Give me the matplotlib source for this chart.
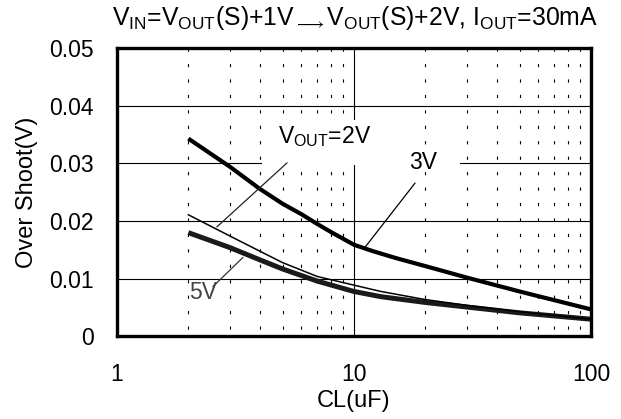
import matplotlib
matplotlib.use("Agg")
import matplotlib.pyplot as plt
from matplotlib.patches import Rectangle

plt.rcParams['font.family'] = ['Liberation Sans', 'DejaVu Sans']
plt.rcParams['mathtext.fontset'] = 'custom'
plt.rcParams['mathtext.rm'] = 'Liberation Sans'
plt.rcParams['mathtext.it'] = 'Liberation Sans:italic'
plt.rcParams['mathtext.bf'] = 'Liberation Sans:bold'

# 过冲电压 vs 负载电容
cl_3v = [2, 3, 4, 5, 6, 7, 8, 10, 12, 15, 20, 30, 50, 100]
os_3v = [0.0343, 0.0294, 0.0256, 0.0230, 0.0212, 0.0195, 0.0181, 0.0159,
         0.0148, 0.0136, 0.0122, 0.0102, 0.0078, 0.0047]

cl_2v = [2, 3, 4, 5, 7, 10, 13, 20, 30, 50, 100]
os_2v = [0.0211, 0.0174, 0.0148, 0.0128, 0.0104, 0.0089, 0.0078, 0.0064,
         0.0054, 0.0043, 0.0030]

cl_5v = [2, 3, 4, 5, 7, 10, 13, 20, 30, 50, 100]
os_5v = [0.0180, 0.0154, 0.0133, 0.0117, 0.0096, 0.0078, 0.0069, 0.0059,
         0.0051, 0.0041, 0.0030]

x_ticks = [1, 10, 100]
x_ticklabels = ['1', '10', '100']
y_ticks = [0, 0.01, 0.02, 0.03, 0.04, 0.05]
y_ticklabels = ['0', '0.01', '0.02', '0.03', '0.04', '0.05']
minor_x = [2, 3, 4, 5, 6, 7, 8, 9, 20, 30, 40, 50, 60, 70, 80, 90]

fig = plt.figure(figsize=(6.21, 4.19), dpi=100)
ax = fig.add_axes([0.1884, 0.1969, 0.7633, 0.6885])
ax.set_xscale('log')
ax.set_xlim(1, 100)
ax.set_ylim(0, 0.05)

# 网格: 实线主网格 + 短划线次网格
for y in y_ticks[1:-1]:
    ax.plot([1, 100], [y, y], color='black', lw=0.8, zorder=1)
ax.plot([10, 10], [0, 0.05], color='black', lw=0.8, zorder=1)
for x in minor_x:
    ax.plot([x, x], [0.05, 0], color='black', lw=0.8,
            linestyle=(0, (2.9, 11)), zorder=1)

# 标注文字背后的白底
ax.add_patch(Rectangle((4.1, 0.0297), 13.8 - 4.1, 0.0375 - 0.0297,
                       facecolor='white', edgecolor='none', zorder=2))
ax.add_patch(Rectangle((13.8, 0.0285), 28 - 13.8, 0.0320 - 0.0285,
                       facecolor='white', edgecolor='none', zorder=2))

ax.plot(cl_3v, os_3v, color='black', lw=3.0, zorder=4, solid_capstyle='butt')
ax.plot(cl_5v, os_5v, color='#1a1a1a', lw=3.6, zorder=4, solid_capstyle='butt')
ax.plot(cl_2v, os_2v, color='black', lw=1.1, zorder=5)

# 曲线标注
line_kw = dict(arrowstyle='-', lw=0.9, shrinkA=0, shrinkB=0)
ax.annotate('', xy=(2.64, 0.0190), xytext=(5.22, 0.0301), zorder=6,
            arrowprops=dict(color='#222222', **line_kw))
ax.text(7.55, 0.0346, r'V$_{\rm OUT}$=2V', fontsize=16.5, ha='center',
        va='center', zorder=6)
ax.annotate('', xy=(11.1, 0.0154), xytext=(18.1, 0.0266), zorder=6,
            arrowprops=dict(color='black', **line_kw))
ax.text(19.5, 0.0301, '3V', fontsize=16.5, ha='center', va='center',
        zorder=6)
ax.annotate('', xy=(3.40, 0.0137), xytext=(2.54, 0.00865), zorder=6,
            arrowprops=dict(color='#333333', **line_kw))
ax.text(2.31, 0.0076, '5V', fontsize=16.5, ha='center', va='center',
        color='#444444', zorder=6)

ax.set_xticks(x_ticks)
ax.set_xticklabels(x_ticklabels)
ax.set_xticks([], minor=True)
ax.set_yticks(y_ticks)
ax.set_yticklabels(y_ticklabels)
ax.tick_params(axis='both', length=0, labelsize=16.5)
ax.tick_params(axis='x', pad=19)
ax.tick_params(axis='y', pad=17)

for sp in ax.spines.values():
    sp.set_linewidth(2.4)
    sp.set_zorder(7)

ax.set_xlabel('CL(uF)', fontsize=17, labelpad=3)
ax.set_ylabel('Over Shoot(V)', fontsize=17, labelpad=8)

fig.text(0.572, 0.957,
         r'V$_{\rm IN}$=V$_{\rm OUT}$(S)+1V$_{\longrightarrow}$V$_{\rm OUT}$(S)+2V, I$_{\rm OUT}$=30mA',
         fontsize=17.8, ha='center', va='center')

fig.savefig('out.png', dpi=100)
